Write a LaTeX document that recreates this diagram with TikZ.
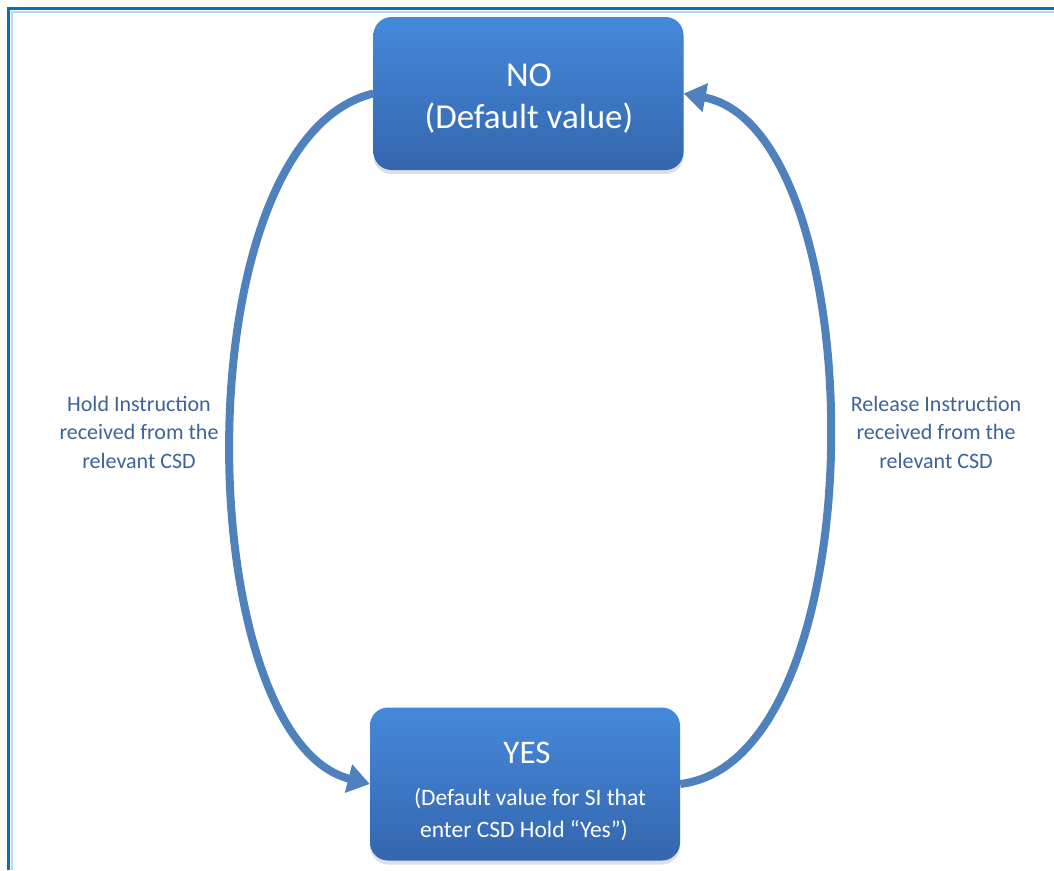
\documentclass[tikz,border=0pt]{standalone}
\usepackage{fontspec}
\setmainfont{Carlito}
\usetikzlibrary{arrows.meta,shadows}
\definecolor{frameblue}{HTML}{0070C0}
\definecolor{framelight}{HTML}{B8D6F0}
\definecolor{arrowblue}{HTML}{4F81BD}
\definecolor{boxtop}{HTML}{4589DA}
\definecolor{boxbot}{HTML}{3466AE}
\definecolor{labelblue}{HTML}{3D6498}
\begin{document}
\begin{tikzpicture}[x=1pt,y=-1pt,
  statebox/.style={rounded corners=18pt, minimum width=310pt, minimum height=153pt,
    top color=boxtop, bottom color=boxbot, draw=none,
    inner sep=0pt, drop shadow={shadow xshift=0pt,shadow yshift=-4pt,opacity=0.25}},
  boxtext/.style={text=white, anchor=base, inner sep=0pt},
  flow/.style={draw=arrowblue, line width=8pt, -{Triangle[width=28pt,length=22pt]}},
  lbl/.style={text=labelblue, align=center, font=\fontsize{22}{28.5}\selectfont}]
\useasboundingbox (0,0) rectangle (1054,870);
\fill[white] (0,0) rectangle (1054,870);
% frame
\draw[framelight, line width=2pt] (1054,12) -- (12,12) -- (12,870);
\draw[frameblue, line width=3.5pt] (1054,8.5) -- (8.5,8.5) -- (8.5,870);
% states
\node[statebox] (no) at (528.5,93.5) {};
\node[boxtext, font=\fontsize{35}{41}\selectfont] (no1) at (529,86) {NO};
\node[boxtext, font=\fontsize{35}{41}\selectfont] (no2) at (529,128) {(Default value)};
\node[statebox] (yes) at (525,784) {};
\node[boxtext, font=\fontsize{33}{40}\selectfont] (yes1) at (527,763) {YES};
\node[boxtext, font=\fontsize{23.5}{32}\selectfont] (yes2) at (530,805) {(Default value for SI that};
\node[boxtext, font=\fontsize{23.5}{32}\selectfont] (yes3) at (524,837) {enter CSD Hold “Yes”)};
% transitions
\draw[flow] (no.west) .. controls (180,140) and (190,738) .. (yes.west);
\draw[flow] (yes.east) .. controls (880,760) and (875,130) .. (no.east);
% labels
\node[lbl] (hold) at (139,432) {Hold Instruction\\received from the\\relevant CSD};
\node[lbl] (release) at (936,432) {Release Instruction\\received from the\\relevant CSD};
\end{tikzpicture}
\end{document}
